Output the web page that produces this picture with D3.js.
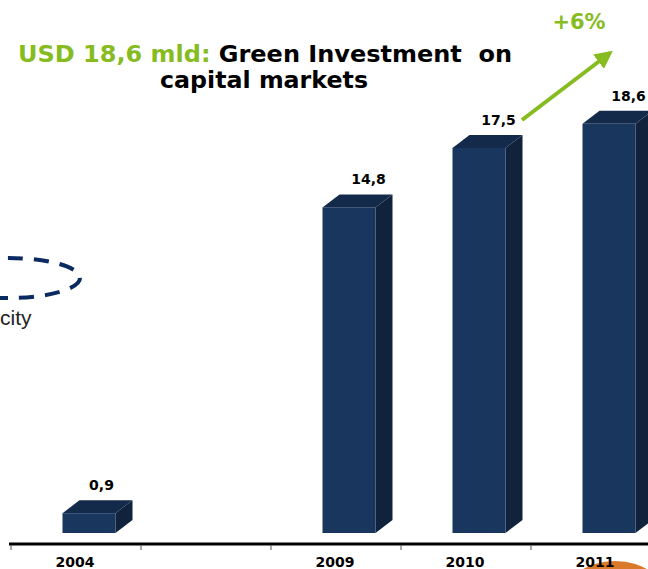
<!DOCTYPE html>
<html>
<head>
<meta charset="utf-8">
<script src="https://cdn.jsdelivr.net/npm/d3@7"></script>
<style>
  html, body { margin: 0; padding: 0; background: #fff; overflow: hidden; }
</style>
</head>
<body>
<div id="chart"></div>
<script>
/** Chart data. */
const years = ["2004", "2009", "2010", "2011"];
const values = [0.9, 14.8, 17.5, 18.6];
const valueLabels = ["0,9", "14,8", "17,5", "18,6"];
// the axis keeps an empty slot between 2004 and 2009
const slots = ["2004", "gap", "2009", "2010", "2011"];

const W = 648, H = 569;
const GREEN = "#86bc1f";
const FRONT = "#19365e", TOP = "#142a4b", SIDE = "#10223c";
const FONT = "'DejaVu Sans', Verdana, sans-serif";

/** Bar geometry. */
const BAR_W = 53, DX = 17, DY = 13;

const svg = d3.select("#chart").append("svg")
    .attr("width", W)
    .attr("height", H);

const x = d3.scaleBand().domain(slots).range([10, 660]).padding(0);
const y = d3.scaleLinear().domain([0, 20]).range([533, 93]);

// Orange blob at the bottom right corner
svg.append("ellipse")
    .attr("cx", 615).attr("cy", 601)
    .attr("rx", 53).attr("ry", 40)
    .attr("fill", "#d97a2b");

// Dashed ellipse fragment on the left
svg.append("ellipse")
    .attr("cx", 8).attr("cy", 278)
    .attr("rx", 72).attr("ry", 20)
    .attr("fill", "none")
    .attr("stroke", "#0b2a62")
    .attr("stroke-width", 4)
    .attr("stroke-dasharray", "15 11");

svg.append("text")
    .attr("x", 0).attr("y", 325)
    .attr("font-family", "'Liberation Sans', Arial, sans-serif")
    .attr("font-size", 21)
    .attr("fill", "#222")
    .text("city");

// Bars drawn as three faces
const bars = svg.append("g")
    .selectAll("g")
    .data(years.map((d, i) => ({ year: d, value: values[i], label: valueLabels[i] })))
    .enter()
    .append("g");

const left = d => x(d.year) + x.bandwidth() / 2 - 12.5;

bars.append("path")
    .attr("fill", SIDE)
    .attr("d", d => {
        const x1 = left(d) + BAR_W, yt = y(d.value), yb = y(0);
        return `M${x1},${yt}L${x1 + DX},${yt - DY}L${x1 + DX},${yb - DY}L${x1},${yb}Z`;
    });

bars.append("path")
    .attr("fill", TOP)
    .attr("d", d => {
        const x0 = left(d), yt = y(d.value);
        return `M${x0},${yt}L${x0 + DX},${yt - DY}L${x0 + BAR_W + DX},${yt - DY}L${x0 + BAR_W},${yt}Z`;
    });

bars.append("rect")
    .attr("fill", FRONT)
    .attr("x", d => left(d))
    .attr("y", d => y(d.value))
    .attr("width", BAR_W)
    .attr("height", d => y(0) - y(d.value));

bars.append("text")
    .attr("x", d => left(d) + BAR_W - (d.value < 5 ? 14 : 7))
    .attr("y", d => y(d.value) - DY - 10)
    .attr("text-anchor", "middle")
    .attr("font-family", FONT)
    .attr("font-weight", "bold")
    .attr("font-size", 14)
    .attr("fill", "#000")
    .text(d => d.label);

// X axis
const axis = svg.append("g")
    .attr("transform", "translate(0,544)")
    .call(d3.axisBottom(x).tickValues(years).tickSize(0).tickPadding(13));
axis.select(".domain")
    .attr("d", "M9,0H648")
    .attr("stroke", "#000")
    .attr("stroke-width", 3);
axis.selectAll("text")
    .attr("font-family", FONT)
    .attr("font-weight", "bold")
    .attr("font-size", 14)
    .attr("fill", "#000");

// ticks sit on the slot boundaries
axis.selectAll(".bound")
    .data(slots)
    .enter()
    .append("line")
    .attr("x1", d => x(d) + 1).attr("x2", d => x(d) + 1)
    .attr("y1", 1).attr("y2", 6)
    .attr("stroke", "#555")
    .attr("stroke-width", 1);
axis.raise();

// Title
const title = svg.append("text")
    .attr("x", 18).attr("y", 62)
    .attr("font-family", FONT)
    .attr("font-weight", "bold")
    .attr("font-size", 23);
title.append("tspan").attr("fill", GREEN).text("USD 18,6 mld: ");
title.append("tspan").attr("fill", "#000").attr("xml:space", "preserve").text("Green Investment  on");
title.attr("textLength", 494).attr("lengthAdjust", "spacingAndGlyphs");

svg.append("text")
    .attr("x", 264).attr("y", 88)
    .attr("text-anchor", "middle")
    .attr("font-family", FONT)
    .attr("font-weight", "bold")
    .attr("font-size", 23)
    .attr("textLength", 208)
    .attr("lengthAdjust", "spacingAndGlyphs")
    .text("capital markets");

// Growth arrow
svg.append("defs").append("marker")
    .attr("id", "head")
    .attr("viewBox", "0 0 10 10")
    .attr("refX", 8).attr("refY", 5)
    .attr("markerWidth", 4.5).attr("markerHeight", 4.5)
    .attr("orient", "auto")
    .append("path")
    .attr("d", "M0,0L10,5L0,10Z")
    .attr("fill", GREEN);

svg.append("line")
    .attr("x1", 522).attr("y1", 120)
    .attr("x2", 610).attr("y2", 53)
    .attr("stroke", GREEN)
    .attr("stroke-width", 4)
    .attr("marker-end", "url(#head)");

svg.append("text")
    .attr("x", 579).attr("y", 29)
    .attr("text-anchor", "middle")
    .attr("font-family", FONT)
    .attr("font-weight", "bold")
    .attr("font-size", 21)
    .attr("fill", GREEN)
    .text("+6%");
</script>
</body>
</html>
